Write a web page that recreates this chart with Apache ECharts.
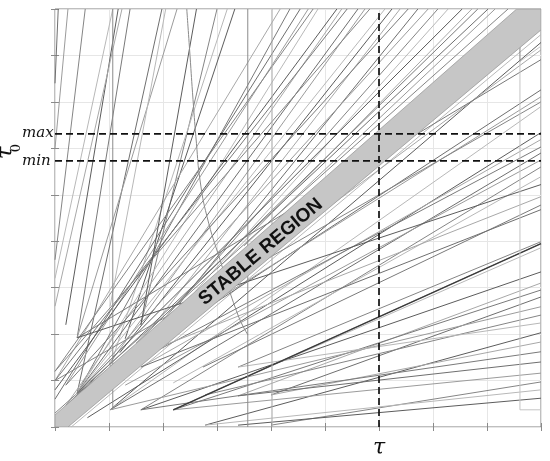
<!DOCTYPE html>
<html>
<head>
<meta charset="utf-8">
<script src="https://cdn.jsdelivr.net/npm/echarts@6/dist/echarts.min.js"></script>
<style>
html, body { margin: 0; background: #fff; }
#main { width: 550px; height: 461px; }
</style>
</head>
<body>
<div id="main"></div>
<script>
// marked operating point
var tauMark = 6;
var tau0Max = 6.31;
var tau0Min = 5.73;

// stable band corners (tau, tau0)
var bandPoly = [[0, 0], [0, 0.26], [8.55, 9], [9, 9], [9, 8.55], [0.24, 0]];
var bandLabelPos = [3.81, 3.77];

// boundary lines above the band: [x0, y0, x1, y1]
var upperLines = [
    [0, 7.4, 0.06, 9], [0, 6.0, 0.24, 9], [0, 3.6, 0.56, 9], [0, 3.2, 1.07, 9],
    [0.2, 2.2, 1.17, 9], [0, 2.6, 1.24, 9], [0.41, 1.92, 1.39, 9], [0.41, 0.73, 1.98, 9],
    [0.41, 1.92, 2.26, 9], [1.59, 2.2, 3.0, 9], [1.02, 1.3, 3.19, 9], [1.3, 1.9, 3.33, 9],
    [0, 1.0, 4.17, 9], [0.41, 0.73, 4.35, 9], [0, 0.6, 4.54, 9], [0.2, 0.9, 4.69, 9],
    [0, 1.2, 4.78, 9], [0.41, 0.73, 4.87, 9], [0, 0.8, 5.22, 9], [0.2, 0.46, 5.31, 9],
    [0, 1.0, 5.41, 9], [0.41, 0.73, 5.61, 9], [1.0, 1.35, 5.74, 9], [0, 1.2, 5.83, 9],
    [0.41, 0.73, 6.11, 9], [1.2, 1.6, 6.24, 9], [1.8, 2.15, 6.39, 9], [0.2, 0.9, 6.54, 9],
    [2.3, 2.65, 6.72, 9], [0.41, 0.73, 6.91, 9], [2.0, 2.3, 7.09, 9], [2.6, 2.92, 7.28, 9],
    [0.41, 0.73, 7.54, 9], [3.0, 3.4, 7.72, 9], [1.5, 1.8, 7.83, 9], [0.2, 0.46, 8.02, 9],
    [3.5, 3.9, 8.15, 9], [0, 0.3, 8.39, 9], [1.02, 2.6, 2.05, 9], [1.59, 2.2, 2.62, 9]
];

// boundary lines below the band: [x0, y0, x1, y1]
var lowerLines = [
    [0.3, 0, 9, 8.45], [1.02, 0.37, 9, 8.28], [0.41, 0.73, 9, 8.12], [0.41, 1.92, 9, 7.91],
    [0.41, 0.73, 9, 7.26], [1.02, 1.3, 9, 7.11], [0, 1.0, 9, 7.0], [1.02, 0.37, 9, 6.9],
    [0.6, 0.2, 9, 6.34], [1.59, 1.29, 9, 6.19], [0.41, 0.73, 9, 6.03], [1.02, 0.37, 9, 5.9],
    [1.3, 0.9, 9, 5.75], [1.59, 0.37, 9, 5.6], [2.19, 0.95, 9, 5.39], [0.41, 1.92, 9, 5.22],
    [1.02, 1.3, 9, 4.96], [2.74, 1.29, 9, 4.78], [1.59, 1.29, 9, 4.68], [2.19, 0.37, 9, 3.95],
    [3.39, 1.29, 9, 3.99], [2.78, 0.69, 9, 3.86], [1.59, 0.37, 9, 3.34], [3.39, 0.67, 9, 3.1],
    [2.19, 0.37, 9, 2.95], [4.0, 0.69, 9, 2.8], [1.02, 0.37, 9, 2.59], [2.78, 0.69, 9, 2.41],
    [3.39, 1.29, 9, 2.24], [2.78, 0.04, 9, 2.03], [4.0, 0.69, 9, 1.83], [1.59, 0.37, 9, 1.62],
    [3.39, 0.67, 9, 1.4], [2.19, 0.37, 9, 1.16], [4.0, 0.04, 9, 0.97], [2.78, 0.04, 9, 0.8],
    [3.39, 0.04, 9, 0.62]
];

// bent boundary from the top edge
var curvePts = [[2.44, 9], [2.5, 8.0], [2.556, 7.05], [2.62, 6.1], [2.685, 5.32],
    [2.815, 4.53], [3.056, 3.6], [3.389, 2.41], [3.574, 1.98]];

// vertical boundaries: [x, y0, y1]
var vLines = [[1.07, 0.37, 9], [3.57, 0, 9], [4.02, 0, 9]];
var hookPts = [[9, 0.37], [8.61, 0.37], [8.61, 7.87], [9, 8.2]];
var hookTop = [[8.61, 7.87], [8.61, 8.28]];

var grays = ['#6f6f6f', '#9b9b9b', '#858585', '#b8b8b8', '#5c5c5c', '#a8a8a8', '#7a7a7a'];

var myChart = echarts.init(document.getElementById('main'));

var series = [];
function seg(pts, color, w, z) {
    series.push({
        type: 'line', data: pts, symbol: 'none', silent: true, z: z || 2,
        lineStyle: { color: color, width: w || 1 }
    });
}

upperLines.forEach(function (l, i) {
    seg([[l[0], l[1]], [l[2], l[3]]], grays[i % grays.length]);
});
lowerLines.forEach(function (l, i) {
    seg([[l[0], l[1]], [l[2], l[3]]], grays[(i + 3) % grays.length]);
});
// darker overlapped line
seg([[2.19, 0.37], [9, 3.95]], '#3a3a3a', 1.4);

vLines.forEach(function (v, i) {
    seg([[v[0], v[1]], [v[0], v[2]]], i == 2 ? '#b0b0b0' : '#8c8c8c');
});
seg(hookPts, '#c4c4c4');
seg(hookTop, '#808080');
series.push({
    type: 'line', data: curvePts, smooth: true, symbol: 'none', silent: true, z: 2,
    lineStyle: { color: '#8a8a8a', width: 1 }
});

// stable region band
series.push({
    type: 'custom', z: 3, clip: true, silent: true,
    data: [0],
    renderItem: function (params, api) {
        var pts = bandPoly.map(function (p) { return api.coord(p); });
        return {
            type: 'polygon',
            shape: { points: pts },
            style: { fill: '#c6c6c6', stroke: '#9a9a9a', lineWidth: 0.8 }
        };
    }
});
series.push({
    type: 'custom', z: 4, silent: true,
    data: [0],
    renderItem: function (params, api) {
        var c = api.coord(bandLabelPos);
        return {
            type: 'text', x: c[0], y: c[1], rotation: 40 * Math.PI / 180,
            style: {
                text: 'STABLE REGION', fill: '#111',
                font: 'bold 19px "Liberation Sans", Arial, sans-serif',
                align: 'center', verticalAlign: 'middle'
            }
        };
    }
});

// dashed guides
var dash = { color: '#111', width: 1.7, type: [7, 4] };
series.push({ type: 'line', data: [[tauMark, 0], [tauMark, 9]], symbol: 'none', silent: true, z: 5, lineStyle: dash });
series.push({ type: 'line', data: [[0, tau0Max], [9, tau0Max]], symbol: 'none', silent: true, z: 5, lineStyle: dash });
series.push({ type: 'line', data: [[0, tau0Min], [9, tau0Min]], symbol: 'none', silent: true, z: 5, lineStyle: dash });

var tick = { show: true, inside: true, length: 4, lineStyle: { color: '#8a8a8a' } };
function ax(pos, split) {
    return {
        type: 'value', min: 0, max: 9, interval: 1, position: pos,
        axisLine: { show: false }, axisTick: tick, axisLabel: { show: false },
        splitLine: { show: split, lineStyle: { color: '#e6e6e6', width: 1 } }
    };
}
var xb = ax('bottom', true), xt = ax('top', false), yl = ax('left', true), yr = ax('right', false);

var serifI = 'italic 15px "DejaVu Serif", serif';

var option = {
    animation: false,
    backgroundColor: '#fff',
    grid: { left: 55, right: 9, top: 9, bottom: 34, show: true, borderColor: '#7f7f7f', borderWidth: 1 },
    xAxis: [xb, xt],
    yAxis: [yl, yr],
    series: series,
    graphic: [
        { type: 'text', x: 379, y: 448, style: { text: 'τ', font: 'italic 22px "DejaVu Serif", serif', fill: '#111', align: 'center', verticalAlign: 'middle' } },
        { type: 'text', x: 6, y: 153, rotation: Math.PI / 2, style: { text: 'τ', font: 'italic 23px "DejaVu Serif", serif', fill: '#111', align: 'center', verticalAlign: 'middle' } },
        { type: 'text', x: 16.5, y: 148, rotation: Math.PI / 2, style: { text: '0', font: '13px "DejaVu Serif", serif', fill: '#111', align: 'center', verticalAlign: 'middle' } },
        { type: 'text', x: 22, y: 141, style: { text: 'max', font: serifI, fill: '#111', align: 'left', verticalAlign: 'bottom' } },
        { type: 'text', x: 22, y: 169, style: { text: 'min', font: serifI, fill: '#111', align: 'left', verticalAlign: 'bottom' } }
    ]
};

myChart.setOption(option);
</script>
</body>
</html>
